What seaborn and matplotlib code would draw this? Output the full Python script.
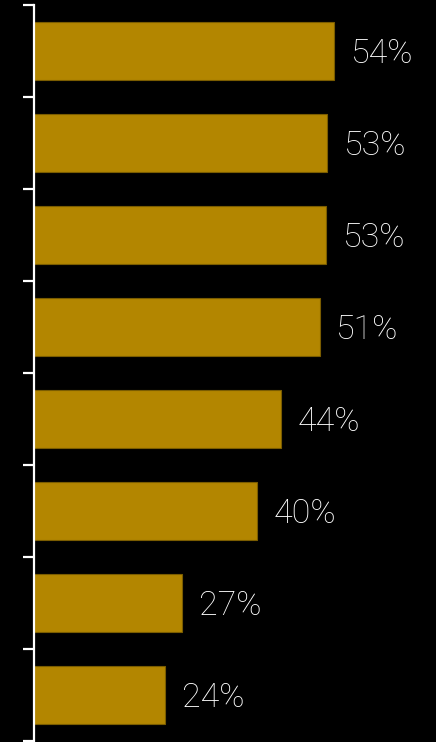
import numpy as np
import pandas as pd
import matplotlib
matplotlib.use('Agg')
import matplotlib.pyplot as plt
import seaborn as sns

# Data
categories = ["A", "B", "C", "D", "E", "F", "G", "H"]
values = [53.9, 52.7, 52.5, 51.3, 44.3, 40.0, 26.6, 23.6]
labels = ["54%", "53%", "53%", "51%", "44%", "40%", "27%", "24%"]

df = pd.DataFrame({"category": categories, "value": values})

sns.set_style("dark")
plt.rcParams['font.family'] = ['Roboto', 'DejaVu Sans']

fig = plt.figure(figsize=(4.36, 7.42), dpi=100, facecolor="black")
ax = fig.add_axes([34 / 436, 1 / 742, 1 - 34 / 436, 736 / 742])
ax.set_facecolor("black")

sns.barplot(data=df, x="value", y="category", orient="h", color="#B38600",
            saturation=1, width=0.62, edgecolor="#7a5c00", linewidth=0.8, ax=ax)

# value labels to the right of each bar
for i, (v, lab) in enumerate(zip(values, labels)):
    ax.annotate(lab, xy=(v, i), xytext=(12, -2.5), textcoords="offset points",
                va="center", ha="left", color="white", fontsize=24.5,
                fontweight="light")

ax.set_xlim(0, 72.2)
ax.set_ylim(len(categories) - 0.5, -0.5)
ax.set_yticks(np.arange(-0.5, len(categories) + 0.5, 1))
ax.set_yticklabels([])
ax.set_xticks([])
ax.set_xlabel("")
ax.set_ylabel("")
ax.grid(False)
for side in ["top", "right", "bottom"]:
    ax.spines[side].set_visible(False)
ax.spines["left"].set_visible(True)
ax.spines["left"].set_color("white")
ax.spines["left"].set_linewidth(1.6)
ax.tick_params(axis="y", left=True, colors="white", length=8, width=1.6,
               direction="out")

fig.savefig("out.png", dpi=100, facecolor="black")
plt.close(fig)
